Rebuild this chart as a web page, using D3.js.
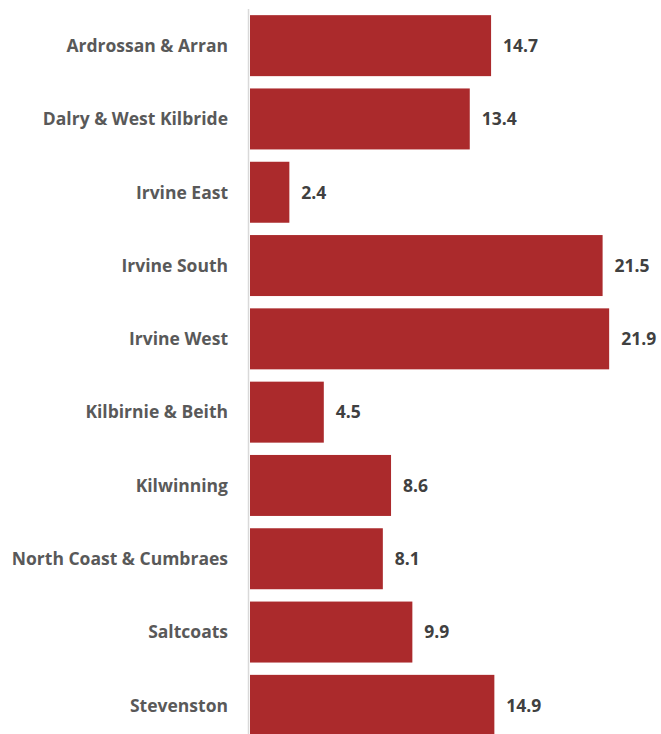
<!DOCTYPE html>
<html><head><meta charset="utf-8">
<script src="https://cdn.jsdelivr.net/npm/d3@7"></script>
<style>body{margin:0;background:#fff;overflow:hidden}</style>
</head><body>
<svg id="c" width="661" height="734"></svg>
<script>
const categories = ["Ardrossan & Arran","Dalry & West Kilbride","Irvine East","Irvine South","Irvine West","Kilbirnie & Beith","Kilwinning","North Coast & Cumbraes","Saltcoats","Stevenston"];
const values = [14.7,13.4,2.4,21.5,21.9,4.5,8.6,8.1,9.9,14.9];

const svg = d3.select("#c");
const x = d3.scaleLinear().domain([0,24]).range([250, 250+16.4*24]);
const y = d3.scaleBand().domain(categories).range([9, 742]).paddingInner(0.168).paddingOuter(0.084);

svg.selectAll("rect.bar").data(categories).join("rect")
  .attr("class","bar")
  .attr("x", x(0))
  .attr("y", d => y(d))
  .attr("width", (d,i) => x(values[i]) - x(0))
  .attr("height", y.bandwidth())
  .attr("fill", "#ab2a2c");

svg.append("line").attr("x1",248.5).attr("x2",248.5).attr("y1",9).attr("y2",734)
  .attr("stroke","#d9d9d9").attr("stroke-width",1.5);

svg.selectAll("text.cat").data(categories).join("text")
  .attr("class","cat")
  .attr("x", 228)
  .attr("y", d => y(d) + y.bandwidth()/2)
  .attr("dy","0.36em")
  .attr("text-anchor","end")
  .attr("font-family","'Open Sans', sans-serif")
  .attr("font-weight","bold")
  .attr("font-size","17.5px")
  .attr("fill","#595959")
  .text(d => d);

svg.selectAll("text.val").data(categories).join("text")
  .attr("class","val")
  .attr("x", (d,i) => x(values[i]) + 12)
  .attr("y", d => y(d) + y.bandwidth()/2)
  .attr("dy","0.36em")
  .attr("font-family","'Open Sans', sans-serif")
  .attr("font-weight","bold")
  .attr("font-size","17.5px")
  .attr("fill","#404040")
  .text((d,i) => values[i].toFixed(1));
</script>
</body></html>
